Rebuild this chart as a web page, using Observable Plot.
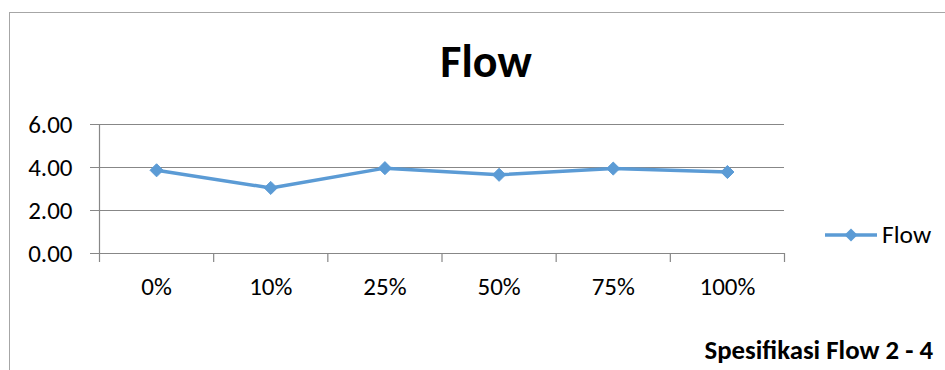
<!DOCTYPE html>
<html>
<head>
<meta charset="utf-8">
<script src="https://cdn.jsdelivr.net/npm/d3@7"></script>
<script src="https://cdn.jsdelivr.net/npm/@observablehq/plot@0.6"></script>
<style>
  html, body { margin: 0; padding: 0; background: #fff; }
  body { font-family: Carlito, Lato, "Open Sans", sans-serif; color: #000; }
  #wrap { position: relative; width: 945px; height: 370px; overflow: hidden; }
  #frame { position: absolute; left: 9px; top: 12px; right: -5px; bottom: -5px;
           border-left: 1.3px solid #a6a6a6; border-top: 1.3px solid #a6a6a6; pointer-events: none; }
  #title { position: absolute; left: 0; width: 972px; top: 38px; text-align: center;
           font-weight: bold; font-size: 46px; line-height: 46px; }
  #caption { position: absolute; right: 12px; top: 337px; font-weight: bold; font-size: 26.8px; line-height: 26px; }
  #legend { position: absolute; left: 824px; top: 222px; display: flex; align-items: center; }
  #legend span { font-size: 25.5px; line-height: 26px; margin-left: 4px; }
  #chart { position: absolute; left: 0; top: 0; }
  #chart svg text { font-size: 25px; }
</style>
</head>
<body>
<div id="wrap">
  <div id="chart"></div>
  <div id="frame"></div>
  <div id="title">Flow</div>
  <div id="legend">
    <svg width="54" height="26"><line x1="1" x2="53" y1="13" y2="13" stroke="#5b9bd5" stroke-width="3.5"/><path d="M27,6.5L33.5,13L27,19.5L20.5,13Z" fill="#5b9bd5"/></svg>
    <span>Flow</span>
  </div>
  <div id="caption">Spesifikasi Flow 2 - 4</div>
</div>
<script>
const categories = ["0%", "10%", "25%", "50%", "75%", "100%"];
const flowValues = [3.87, 3.05, 3.97, 3.66, 3.95, 3.79];
const yTicks = [0, 2, 4, 6];

const data = categories.map((c, i) => ({cat: c, idx: i + 0.5, value: flowValues[i]}));
const boundaries = d3.range(categories.length + 1);
const labelPositions = categories.map((c, i) => i + 0.5);

const gridColor = "#878787";
const blue = "#5b9bd5";

const chart = Plot.plot({
  width: 945,
  height: 370,
  marginLeft: 99,
  marginRight: 161,
  marginTop: 124,
  marginBottom: 117,
  style: {fontFamily: "Carlito, Lato, 'Open Sans', sans-serif", fontSize: "25px", color: "#000", background: "transparent"},
  x: {type: "linear", domain: [0, categories.length], ticks: labelPositions,
      tickFormat: d => categories[Math.floor(d)], tickSize: 0, tickPadding: 24, label: null, line: false},
  y: {domain: [0, 6], ticks: yTicks, tickFormat: d3.format(".2f"), tickSize: 0, tickPadding: 27, label: null},
  marks: [
    Plot.ruleY(yTicks, {y: d => d, stroke: gridColor, strokeWidth: 1.2, insetLeft: -9}),
    Plot.ruleX([0], {x: d => d, stroke: gridColor, strokeWidth: 1.2}),
    Plot.ruleX(boundaries, {x: d => d, y1: 0, y2: 0, insetBottom: -9, stroke: gridColor, strokeWidth: 1.2}),
    Plot.line(data, {x: "idx", y: "value", stroke: blue, strokeWidth: 3.5, strokeLinejoin: "round"}),
    Plot.dot(data, {x: "idx", y: "value", symbol: "diamond2", r: 5.9, fill: blue, stroke: blue, strokeWidth: 1})
  ]
});
document.getElementById("chart").appendChild(chart);
</script>
</body>
</html>
